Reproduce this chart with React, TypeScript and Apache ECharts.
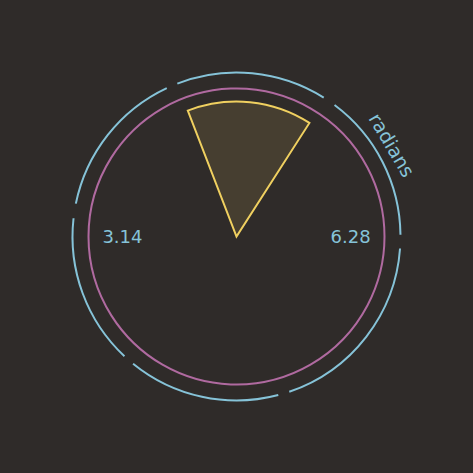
import React, { useEffect, useRef } from "react";
import * as echarts from "echarts";

const TWO_PI = 6.283185307179586;
const tickInterval = 3.141592653589793;
const tickLabels = ["6.28", "3.14"];

// wedge: radius (relative to axis circle), angle start, angle end (radians)
const wedgeRadius = [0.912];
const wedgeStart = [1.0];
const wedgeEnd = [1.94];

// outer blue ring segments
const ringRadius = 1.108;
const ringStart = [0.01, 1.01, 2.01, 3.03, 4.03, 5.04];
const ringEnd = [0.93, 1.94, 2.94, 3.96, 4.97, 6.21];

const BG = "#2f2b29";
const BLUE = "#86c3d8";
const PURPLE = "#b06aa0";
const YELLOW = "#f0d060";

export default function App() {
  const ref = useRef<HTMLDivElement>(null);
  useEffect(() => {
    if (!ref.current) return;
    const chart = echarts.init(ref.current, null, { renderer: "svg" });

    const geom = (api: any, r: number, a0: number, a1: number) => {
      const c = api.coord([0, 0]);
      const p0 = api.coord([r, a0]);
      const p1 = api.coord([r, a1]);
      const R = Math.hypot(p0[0] - c[0], p0[1] - c[1]);
      const s0 = Math.atan2(p0[1] - c[1], p0[0] - c[0]);
      let s1 = Math.atan2(p1[1] - c[1], p1[0] - c[0]);
      while (s1 > s0) s1 -= 2 * Math.PI;
      return { cx: c[0], cy: c[1], R, s0, s1 };
    };

    chart.setOption({
      animation: false,
      backgroundColor: BG,
      polar: { center: ["50%", "50%"], radius: 148 },
      angleAxis: {
        type: "value",
        min: 0,
        max: TWO_PI,
        interval: tickInterval,
        startAngle: 0,
        clockwise: false,
        axisLine: { lineStyle: { color: PURPLE, width: 2 } },
        axisTick: { show: false },
        splitLine: { show: false },
        axisLabel: {
          margin: -54,
          color: BLUE,
          fontSize: 18,
          fontFamily: "DejaVu Sans",
          formatter: (v: number) => (v < 1 ? tickLabels[0] : tickLabels[1]),
        },
      },
      radiusAxis: {
        type: "value",
        min: 0,
        max: 1,
        show: false,
        axisLine: { show: false },
        splitLine: { show: false },
        axisLabel: { show: false },
        axisTick: { show: false },
      },
      series: [
        {
          type: "custom",
          coordinateSystem: "polar",
          silent: true,
          data: ringStart.map((s, i) => [ringRadius, s, ringEnd[i]]),
          renderItem: (params: any, api: any) => {
            const g = geom(api, api.value(0), api.value(1), api.value(2));
            return {
              type: "arc",
              shape: { cx: g.cx, cy: g.cy, r: g.R, startAngle: g.s0, endAngle: g.s1, clockwise: false },
              style: { stroke: BLUE, lineWidth: 2, fill: null },
            };
          },
        },
        {
          type: "custom",
          coordinateSystem: "polar",
          silent: true,
          data: wedgeRadius.map((r, i) => [r, wedgeStart[i], wedgeEnd[i]]),
          renderItem: (params: any, api: any) => {
            const g = geom(api, api.value(0), api.value(1), api.value(2));
            return {
              type: "sector",
              shape: { cx: g.cx, cy: g.cy, r0: 0, r: g.R, startAngle: g.s1, endAngle: g.s0, clockwise: true },
              style: { stroke: YELLOW, lineWidth: 2, fill: "rgba(240,208,96,0.12)", lineJoin: "miter" },
            };
          },
        },
      ],
      graphic: [
        {
          type: "text",
          x: 392,
          y: 145,
          rotation: -1.037,
          style: {
            text: "radians",
            fill: BLUE,
            fontSize: 19,
            fontFamily: "DejaVu Sans",
            align: "center",
            verticalAlign: "middle",
          },
        },
      ],
    });
    return () => chart.dispose();
  }, []);
  return (
    <div
      ref={ref}
      style={{ position: "fixed", left: 0, top: 0, width: 473, height: 473 }}
    />
  );
}
